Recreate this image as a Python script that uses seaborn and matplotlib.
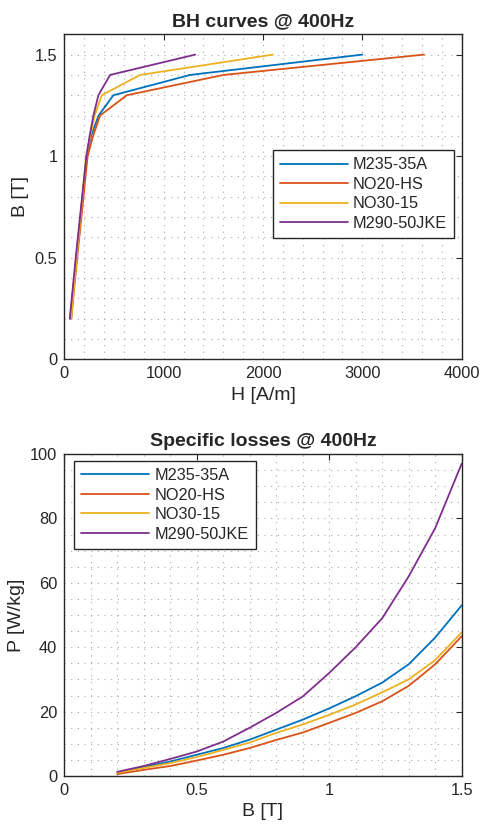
import pandas as pd
import matplotlib
matplotlib.use("Agg")
import matplotlib.pyplot as plt
from matplotlib.ticker import MultipleLocator
import seaborn as sns

# Data
materials = ["M235-35A", "NO20-HS", "NO30-15", "M290-50JKE"]
colors = ["#0072BD", "#D95319", "#EDB120", "#7E2F8E"]

# BH curves @ 400Hz
B_bh = [0.2, 0.5, 1.0, 1.1, 1.2, 1.3, 1.4, 1.5]
H_m235 = [60, 120, 226, 270, 345, 494, 1267, 3000]
H_no20 = [70, 130, 235, 290, 360, 629, 1604, 3620]
H_no30 = [70, 125, 220, 262, 305, 377, 763, 2100]
H_m290 = [55, 115, 222, 255, 293, 343, 461, 1318]

# Specific losses @ 400Hz
B_loss = [0.2, 0.3, 0.4, 0.5, 0.6, 0.7, 0.8, 0.9, 1.0, 1.1, 1.2, 1.3, 1.4, 1.5]
P_m235 = [1.0, 2.8, 4.5, 6.6, 8.7, 11.3, 14.4, 17.5, 21.0, 24.8, 29.0, 34.7, 43.0, 53.0]
P_no20 = [0.6, 1.9, 3.1, 4.8, 6.6, 8.7, 11.2, 13.5, 16.5, 19.6, 23.2, 28.0, 34.7, 43.4]
P_no30 = [1.0, 2.5, 4.0, 5.9, 8.1, 10.4, 13.4, 16.0, 19.0, 22.2, 26.0, 30.0, 36.0, 44.6]
P_m290 = [1.3, 3.1, 5.3, 7.6, 10.7, 15.0, 19.6, 24.7, 32.0, 40.0, 49.0, 62.0, 77.0, 97.0]

bh = pd.concat([
    pd.DataFrame({"H": h, "B": B_bh, "Material": m})
    for h, m in zip([H_m235, H_no20, H_no30, H_m290], materials)
])
loss = pd.concat([
    pd.DataFrame({"B": B_loss, "P": p, "Material": m})
    for p, m in zip([P_m235, P_no20, P_no30, P_m290], materials)
])

sns.set_theme(style="white")
plt.rcParams["font.family"] = ["Liberation Sans", "DejaVu Sans"]
plt.rcParams["text.color"] = "#262626"
plt.rcParams["axes.labelcolor"] = "#262626"

fig = plt.figure(figsize=(4.83, 8.33), dpi=100)
W, Hh = 483, 833
ax1 = fig.add_axes([64.3 / W, 1 - 359.3 / Hh, 397.4 / W, 325 / Hh])
ax2 = fig.add_axes([64.3 / W, 1 - 776 / Hh, 397.4 / W, 322 / Hh])

palette = dict(zip(materials, colors))

sns.lineplot(data=bh, x="H", y="B", hue="Material", palette=palette,
             estimator=None, sort=False, linewidth=1.3, ax=ax1, legend=False)
sns.lineplot(data=loss, x="B", y="P", hue="Material", palette=palette,
             estimator=None, sort=False, linewidth=1.3, ax=ax2, legend=False)


def style_axes(ax, xmaj, xmin, ymaj, ymin):
    ax.xaxis.set_major_locator(MultipleLocator(xmaj))
    ax.xaxis.set_minor_locator(MultipleLocator(xmin))
    ax.yaxis.set_major_locator(MultipleLocator(ymaj))
    ax.yaxis.set_minor_locator(MultipleLocator(ymin))
    ax.grid(which="both", linestyle=(0, (1, 5)), color="#a8a8a8",
            linewidth=0.8)
    ax.set_axisbelow(True)
    ax.tick_params(which="major", direction="in", length=4, width=0.8,
                   top=True, right=True, labelsize=11.8, colors="#262626",
                   pad=5)
    ax.tick_params(which="minor", length=0)
    for s in ax.spines.values():
        s.set_color("#262626")
        s.set_linewidth(1.0)


style_axes(ax1, 1000, 200, 0.5, 0.1)
ax1.set_xlim(0, 4000)
ax1.set_ylim(0, 1.6)
ax1.set_yticks([0, 0.5, 1, 1.5])
ax1.set_yticklabels(["0", "0.5", "1", "1.5"])
ax1.set_xlabel("H [A/m]", fontsize=14)
ax1.set_ylabel("B [T]", fontsize=14)
ax1.set_title("BH curves @ 400Hz", fontsize=14, fontweight="bold", pad=6)

style_axes(ax2, 0.5, 0.1, 20, 5)
ax2.set_xlim(0, 1.5)
ax2.set_ylim(0, 100)
ax2.set_xticks([0, 0.5, 1, 1.5])
ax2.set_xticklabels(["0", "0.5", "1", "1.5"])
ax2.set_xlabel("B [T]", fontsize=14)
ax2.set_ylabel("P [W/kg]", fontsize=14)
ax2.set_title("Specific losses @ 400Hz", fontsize=14, fontweight="bold", pad=6)

for ax, anchor in [(ax1, (0.524, 0.644)), (ax2, (0.024, 0.979))]:
    leg = ax.legend(ax.get_lines()[:4], materials, loc="upper left",
                    bbox_to_anchor=anchor, borderaxespad=0, fontsize=11.7,
                    handlelength=4.2, handletextpad=0.3, labelspacing=0.28,
                    borderpad=0.45, fancybox=False, framealpha=1,
                    edgecolor="#262626")
    leg.get_frame().set_linewidth(1.0)

fig.savefig("out.png", dpi=100)
